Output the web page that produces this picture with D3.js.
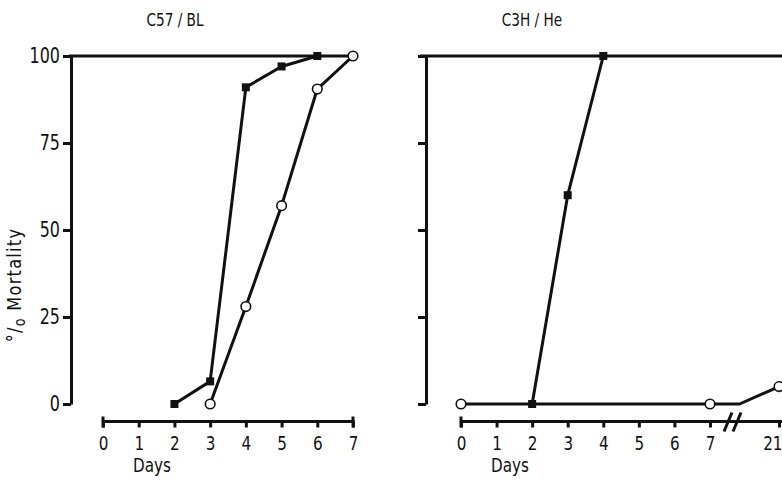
<!DOCTYPE html>
<html><head><meta charset="utf-8">
<script src="https://cdn.jsdelivr.net/npm/d3@7"></script>
<style>
body{margin:0;background:#fff;}
text{font-family:"DejaVu Sans",sans-serif;fill:#111;}
</style></head>
<body><svg id="c" width="782" height="480"></svg>
<script>
// ---- data ----
const yTicks = [0, 25, 50, 75, 100];
const leftDays = [0, 1, 2, 3, 4, 5, 6, 7];
const rightDays = [0, 1, 2, 3, 4, 5, 6, 7, 21];
const titles = ["C57 / BL", "C3H / He"];
// C57/BL
const c57SquareDays = [2, 3, 4, 5, 6];
const c57SquareVals = [0, 6.5, 91, 97, 100];
const c57CircleDays = [3, 4, 5, 6, 7];
const c57CircleVals = [0, 28, 57, 90.5, 100];
// C3H/He
const c3hSquareDays = [2, 3, 4];
const c3hSquareVals = [0, 60, 100];
const c3hCircleDays = [0, 7, 13, 21];
const c3hCircleVals = [0, 0, 0, 5];
const c3hCircleMarked = [true, true, false, true];

const svg = d3.select("#c");
const black = "#111";
const K = 0.76; // horizontal condensing of glyphs
const y = d3.scaleLinear().domain([0, 100]).range([404, 56]);
const xL = d3.scaleLinear().domain([0, 7]).range([103, 353]);
const xR = d3.scaleLinear().domain([0, 7, 21]).range([461, 710, 779]);
const axisY = 421.5;

function condense(sel, k) {
  sel.each(function () {
    const t = d3.select(this);
    const x = +t.attr("x") || 0;
    t.attr("x", x / k).attr("transform", `scale(${k},1)`);
  });
}
function label(x, yy, str, size, anchor) {
  const g = svg.append("g").attr("transform", `translate(${x},${yy})`);
  const t = g.append("text").attr("text-anchor", anchor || "middle").attr("font-size", size)
    .attr("transform", `scale(${K},1)`).text(str);
  return t;
}
function yAxis(x0, labels) {
  const g = svg.append("g").attr("transform", `translate(${x0},0)`)
    .call(d3.axisLeft(y).tickValues(yTicks).tickSize(8).tickSizeOuter(0).tickPadding(3)
      .tickFormat(labels ? d3.format("d") : ""));
  g.select(".domain").attr("stroke", black).attr("stroke-width", 3);
  g.selectAll(".tick line").attr("stroke", black).attr("stroke-width", 3);
  g.selectAll(".tick text").attr("font-size", 21).attr("fill", black);
  condense(g.selectAll(".tick text"), K);
}
function topLine(x0, x1) {
  svg.append("line").attr("x1", x0).attr("x2", x1)
    .attr("y1", y(100)).attr("y2", y(100))
    .attr("stroke", black).attr("stroke-width", 3);
}
function xAxis(x, days, x1) {
  const g = svg.append("g").attr("transform", `translate(0,${axisY})`)
    .call(d3.axisBottom(x).tickValues(days).tickSize(6).tickSizeOuter(0).tickPadding(8).tickFormat(d3.format("d")));
  g.select(".domain").remove();
  g.append("line").attr("x1", x(days[0]) - 1).attr("x2", x1)
    .attr("stroke", black).attr("stroke-width", 3);
  g.append("line").attr("x1", x(days[0])).attr("x2", x(days[0])).attr("y1", -5).attr("y2", 6)
    .attr("stroke", black).attr("stroke-width", 3);
  g.selectAll(".tick line").attr("stroke", black).attr("stroke-width", 3);
  g.selectAll(".tick text").attr("font-size", 20).attr("fill", black);
  condense(g.selectAll(".tick text"), K);
  return g;
}
function series(x, days, vals, kind, marked) {
  const pts = days.map((d, i) => [x(d), y(vals[i]), marked ? marked[i] : true]);
  svg.append("path").attr("d", d3.line()(pts.map(p => [p[0], p[1]])))
    .attr("fill", "none").attr("stroke", black).attr("stroke-width", 3).attr("stroke-linejoin", "round");
  const m = pts.filter(p => p[2]);
  if (kind === "square") {
    svg.selectAll(null).data(m).enter().append("rect")
      .attr("x", p => p[0] - 4).attr("y", p => p[1] - 4).attr("width", 8).attr("height", 8).attr("fill", black);
  } else {
    svg.selectAll(null).data(m).enter().append("circle")
      .attr("cx", p => p[0]).attr("cy", p => p[1]).attr("r", 4.8)
      .attr("fill", "#fff").attr("stroke", black).attr("stroke-width", 1.6);
  }
}

// titles
label(175, 26, titles[0], 18);
label(532, 26, titles[1], 18);

// y label
const ylg = svg.append("g").attr("transform", "translate(21,285) rotate(-90)");
const yl = ylg.append("text").attr("text-anchor", "middle").attr("font-size", 19)
  .attr("letter-spacing", 1.5).attr("transform", "scale(0.85,1)");
yl.append("tspan").text("°/");
yl.append("tspan").attr("dy", 4).attr("font-size", 15).text("o");
yl.append("tspan").attr("dy", -4).text(" Mortality");

// left panel
topLine(69, xL(7));
yAxis(71, true);
xAxis(xL, leftDays, xL(7) + 1.5);
svg.append("line").attr("x1", xL(7)).attr("x2", xL(7)).attr("y1", axisY - 5).attr("y2", axisY + 6)
  .attr("stroke", black).attr("stroke-width", 3);
label(152, 472, "Days", 20);
series(xL, c57CircleDays, c57CircleVals, "circle");
series(xL, c57SquareDays, c57SquareVals, "square");

// right panel
topLine(420, 782);
yAxis(426, false);
const gx = xAxis(xR, rightDays, 782);
// keep the last label ("21") inside the picture, flush right as in the reference
gx.selectAll(".tick").filter(d => d === 21).select("text")
  .attr("text-anchor", "end").attr("x", 3 / K);
// break marks
[-4.5, 4.5].forEach(dx => {
  const bx = (xR(7) + xR(21)) / 2 - 12 + dx;
  gx.append("line").attr("x1", bx - 4).attr("x2", bx + 4).attr("y1", 10).attr("y2", -9)
    .attr("stroke", black).attr("stroke-width", 3);
});
label(510, 472, "Days", 20);
series(xR, c3hCircleDays, c3hCircleVals, "circle", c3hCircleMarked);
series(xR, c3hSquareDays, c3hSquareVals, "square");
</script></body></html>
